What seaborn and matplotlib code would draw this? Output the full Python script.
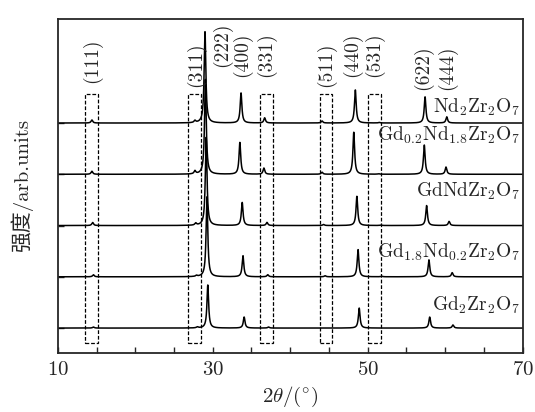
import numpy as np
import pandas as pd
import matplotlib
matplotlib.use("Agg")
import matplotlib.pyplot as plt
from matplotlib.patches import Rectangle
import seaborn as sns

sns.set_style("ticks")
plt.rcParams["font.family"] = ["cmr10", "Noto Sans CJK SC"]
plt.rcParams["mathtext.fontset"] = "cm"
plt.rcParams["axes.formatter.use_mathtext"] = True

# samples, bottom to top
samples = ["Gd$_2$Zr$_2$O$_7$", "Gd$_{1.8}$Nd$_{0.2}$Zr$_2$O$_7$", "GdNdZr$_2$O$_7$",
           "Gd$_{0.2}$Nd$_{1.8}$Zr$_2$O$_7$", "Nd$_2$Zr$_2$O$_7$"]
offsets = [0, 1000, 2000, 3000, 4000]

# reflections (111) (311) (222) (400) (331) (511) (440) (531) (622) (444)
hkl = ["(111)", "(311)", "(222)", "(400)", "(331)", "(511)", "(440)", "(531)", "(622)", "(444)"]
pos_gd2 = [14.6, 28.0, 29.36, 34.05, 37.2, 44.6, 48.9, 52.0, 58.0, 61.0]
pos_gd18 = [14.6, 27.9, 29.25, 33.9, 37.1, 44.5, 48.75, 51.8, 57.9, 60.9]
pos_gdnd = [14.5, 27.8, 29.15, 33.8, 37.0, 44.3, 48.6, 51.7, 57.6, 60.5]
pos_gd02 = [14.4, 27.7, 29.05, 33.5, 36.6, 44.1, 48.2, 51.4, 57.3, 60.1]
pos_nd = [14.4, 27.7, 29.0, 33.65, 36.7, 44.1, 48.4, 51.5, 57.4, 60.2]
int_gd2 = [20, 20, 840, 215, 20, 0, 390, 0, 215, 60]
int_gd18 = [40, 20, 1560, 410, 40, 20, 530, 10, 330, 80]
int_gdnd = [60, 40, 1720, 450, 60, 20, 570, 10, 390, 80]
int_gd02 = [60, 60, 1850, 620, 120, 40, 820, 10, 570, 140]
int_nd = [60, 40, 1780, 585, 100, 40, 645, 10, 510, 120]

box_lo = [13.5, 26.85, 36.1, 43.8, 50.0]
box_hi = [15.2, 28.5, 37.8, 45.4, 51.7]

label_x = [14.4, 27.9, 31.2, 33.8, 36.9, 44.6, 48.0, 50.8, 57.2, 60.2]
label_y = [4780, 4700, 5090, 4900, 4900, 4700, 4900, 4900, 4640, 4640]

positions = [pos_gd2, pos_gd18, pos_gdnd, pos_gd02, pos_nd]
intens = [int_gd2, int_gd18, int_gdnd, int_gd02, int_nd]
name_y = [450, 1470, 2660, 3760, 4300]

tt = np.linspace(10, 70, 6001)
frames = []
for name, off, pos, its in zip(samples, offsets, positions, intens):
    y = np.zeros_like(tt)
    for p, h in zip(pos, its):
        w = 0.13
        y += h * (w ** 2 / ((tt - p) ** 2 + w ** 2))
    frames.append(pd.DataFrame({"tt": tt, "I": y + off, "sample": name}))
df = pd.concat(frames)

fig = plt.figure(figsize=(5.35, 4.12), dpi=100)
ax = fig.add_axes([0.108, 0.144, 0.869, 0.810])

for name in samples:
    sns.lineplot(data=df[df["sample"] == name], x="tt", y="I", color="black",
                 lw=1.1, estimator=None, sort=False, ax=ax)

for lo, hi in zip(box_lo, box_hi):
    ax.add_patch(Rectangle((lo, -290), hi - lo, 4860, fill=False, ls=(0, (3, 1.5)),
                           lw=0.9, ec="black"))

for t, x, y in zip(hkl, label_x, label_y):
    ax.text(x, y, t, rotation=90, ha="center", va="bottom", fontsize=14)

for name, y in zip(samples, name_y):
    ax.text(69.7, y, name, ha="right", va="center", fontsize=14)

ax.set_xlim(10, 70)
ax.set_ylim(-480, 6030)
ax.set_xticks([10, 30, 50, 70])
ax.set_xticks(np.arange(15, 70, 5), minor=True)
ax.set_yticks(offsets)
ax.set_yticklabels([])
ax.tick_params(direction="in", length=4, width=1, labelsize=15, pad=6)
ax.tick_params(which="minor", direction="in", length=4, width=1)
for s in ax.spines.values():
    s.set_linewidth(1.3)
ax.set_xlabel(r"$2\theta/(^{\circ})$", fontsize=15, labelpad=4)
ax.set_ylabel("强度/arb.units", fontsize=15, labelpad=12)

fig.savefig("out.png", dpi=100)
